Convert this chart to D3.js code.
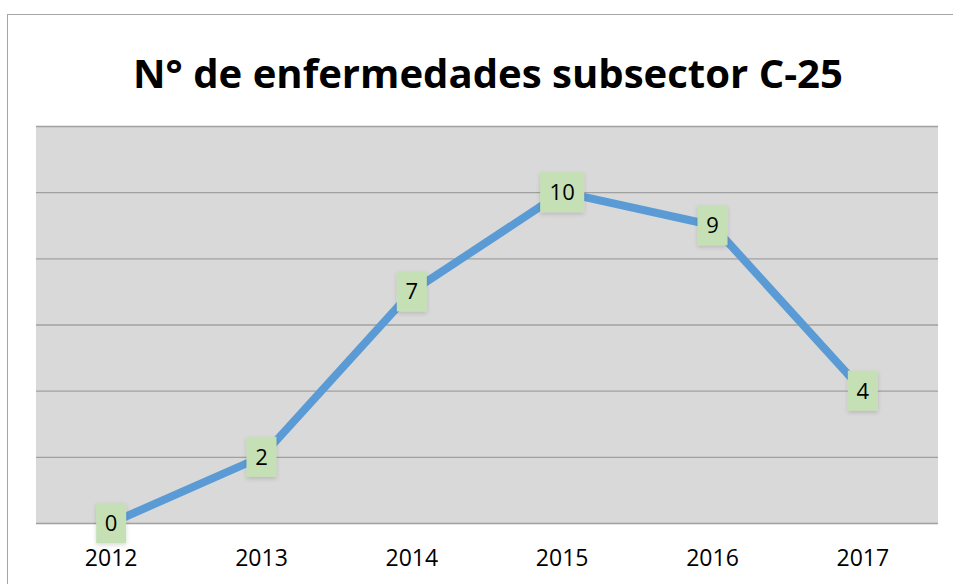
<!DOCTYPE html>
<html>
<head>
<meta charset="utf-8">
<script src="https://cdn.jsdelivr.net/npm/d3@7"></script>
<style>
  body { margin: 0; background: #fff; }
  svg text { font-family: "Open Sans", "Liberation Sans", sans-serif; }
</style>
</head>
<body>
<svg id="chart" width="953" height="584"></svg>
<script>
// chart data
var years = ["2012", "2013", "2014", "2015", "2016", "2017"];
var cases = [0, 2, 7, 10, 9, 4];
var yTicks = [0, 2, 4, 6, 8, 10, 12];

var margin = {top: 126, right: 15, bottom: 61, left: 36},
    width = 953 - margin.left - margin.right,
    height = 584 - margin.top - margin.bottom;

var svg = d3.select("#chart");

// outer chart border (only left and top visible)
svg.append("rect")
  .attr("x", 7.5).attr("y", 14.5)
  .attr("width", 1000).attr("height", 1000)
  .style("fill", "none")
  .style("stroke", "#a6a6a6")
  .style("stroke-width", "1px");

var title = svg.append("text")
  .attr("x", 488).attr("y", 88)
  .attr("text-anchor", "middle")
  .style("font-weight", "bold")
  .style("font-size", "40px")
  .text("N° de enfermedades subsector C-25");
// fit to the width seen in the picture
var tw = title.node().getComputedTextLength();
title.style("font-size", (40 * 710 / tw) + "px");

var x = d3.scaleBand().domain(years).range([0, width]);
var y = d3.scaleLinear().domain([0, 12]).range([height, 0]);

var g = svg.append("g")
  .attr("transform", "translate(" + margin.left + "," + margin.top + ")");

g.append("rect")
  .attr("width", width).attr("height", height)
  .style("fill", "#d9d9d9");

// gridlines
g.append("g")
  .call(d3.axisLeft(y).tickValues(yTicks).tickSize(-width).tickFormat(""))
  .call(function(a) { a.select(".domain").remove(); })
  .selectAll("line")
  .style("stroke", "#a0a0a0")
  .style("stroke-width", "1.3px");

// x axis labels
g.append("g")
  .attr("transform", "translate(0," + height + ")")
  .call(d3.axisBottom(x).tickSize(0).tickPadding(27))
  .call(function(a) { a.select(".domain").remove(); })
  .selectAll("text")
  .style("font-size", "23px")
  .style("fill", "#000");

var data = years.map(function(d, i) { return {year: d, value: cases[i]}; });

var line = d3.line()
  .x(function(d) { return x(d.year) + x.bandwidth() / 2; })
  .y(function(d) { return y(d.value); });

g.append("path")
  .datum(data)
  .attr("d", line)
  .style("fill", "none")
  .style("stroke", "#5b9bd5")
  .style("stroke-width", "8px")
  .style("stroke-linejoin", "round");

var defs = svg.append("defs");
var f = defs.append("filter").attr("id", "shadow")
  .attr("x", "-30%").attr("y", "-30%").attr("width", "160%").attr("height", "160%");
f.append("feDropShadow")
  .attr("dx", 0).attr("dy", 2).attr("stdDeviation", 2)
  .attr("flood-color", "#000").attr("flood-opacity", 0.15);

var labels = g.selectAll(".lbl")
  .data(data)
  .enter()
  .append("g")
  .attr("class", "lbl")
  .attr("transform", function(d) {
    return "translate(" + (x(d.year) + x.bandwidth() / 2) + "," + y(d.value) + ")";
  });

labels.append("rect")
  .attr("x", function(d) { return d.value >= 10 ? -22 : -15; })
  .attr("y", -20)
  .attr("width", function(d) { return d.value >= 10 ? 44 : 30; })
  .attr("height", 40)
  .style("fill", "#c5e0b4")
  .attr("filter", "url(#shadow)");

labels.append("text")
  .attr("text-anchor", "middle")
  .attr("dy", "0.36em")
  .style("font-size", "22px")
  .style("fill", "#000")
  .text(function(d) { return d.value; });
</script>
</body>
</html>
